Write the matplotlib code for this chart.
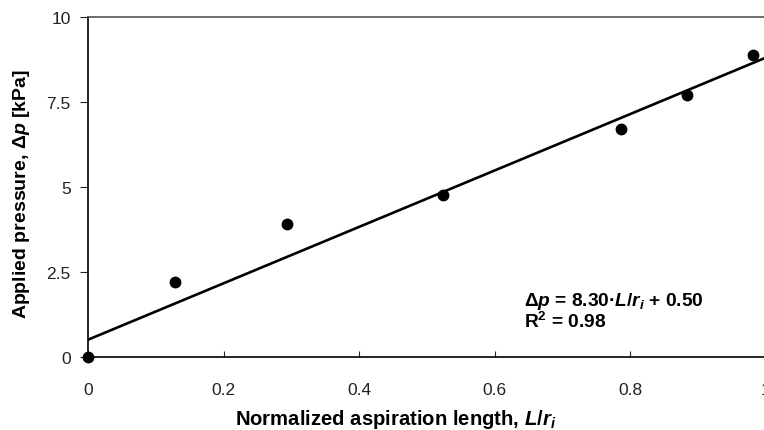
import numpy as np
import matplotlib.pyplot as plt

# measured points (L/ri, dp in kPa)
L_ri = [0.0, 0.128, 0.294, 0.524, 0.786, 0.884, 0.982]
dp = [0.0, 2.19, 3.90, 4.76, 6.69, 7.70, 8.88]

# linear fit reported on the chart
slope = 8.30
intercept = 0.50

xticks = [0, 0.2, 0.4, 0.6, 0.8, 1]
xticklabels = ['0', '0.2', '0.4', '0.6', '0.8', '1']
yticks = [0, 2.5, 5, 7.5, 10]
yticklabels = ['0', '2.5', '5', '7.5', '10']

plt.rcParams['font.family'] = ['Liberation Sans', 'DejaVu Sans']
plt.rcParams['mathtext.fontset'] = 'custom'
plt.rcParams['mathtext.rm'] = 'Liberation Sans:bold'
plt.rcParams['mathtext.bf'] = 'Liberation Sans:bold'
plt.rcParams['mathtext.it'] = 'Liberation Sans:bold:italic'

W, H = 764, 431
fig = plt.figure(figsize=(W/100, H/100), dpi=100)
ax = fig.add_axes([88/W, 73.3/H, 677.5/W, 339.7/H])

ax.plot(L_ri, dp, 'o', color='k', ms=7.5, clip_on=False, zorder=3)
xf = np.array([0.0, 1.0])
ax.plot(xf, slope*xf + intercept, color='k', lw=1.9)

ax.set_xlim(0, 1)
ax.set_ylim(0, 10)
ax.set_xticks(xticks)
ax.set_xticklabels(xticklabels)
ax.set_yticks(yticks)
ax.set_yticklabels(yticklabels)

ax.tick_params(axis='x', direction='in', length=4, pad=18, labelsize=12.5, colors='#222222')
ax.tick_params(axis='y', direction='out', length=5.5, pad=7, labelsize=12.5, colors='#222222')

for s in ['left', 'bottom']:
    ax.spines[s].set_color('k')
    ax.spines[s].set_linewidth(1.2)
ax.spines['top'].set_color('#555555')
ax.spines['top'].set_linewidth(1.2)
ax.spines['right'].set_visible(False)

fig.text(396/W, 1 - 425/H, r'Normalized aspiration length, $L$/$r_i$',
         ha='center', va='baseline', fontsize=14.6, fontweight='bold')
fig.text(22/W, 1 - 194/H, r'Applied pressure, $\Delta p$ [kPa]',
         ha='center', va='center', rotation=90, fontsize=14.0, fontweight='bold')

fig.text(524/W, 1 - 305.5/H, r'$\Delta p$ = 8.30·$L$/$r_i$ + 0.50',
         fontsize=13.8, fontweight='bold', va='baseline', ha='left')
fig.text(524/W, 1 - 328/H, r'R$^2$ = 0.98',
         fontsize=13.8, fontweight='bold', va='baseline', ha='left')

plt.grid(False)
plt.savefig('out.png', dpi=100)
